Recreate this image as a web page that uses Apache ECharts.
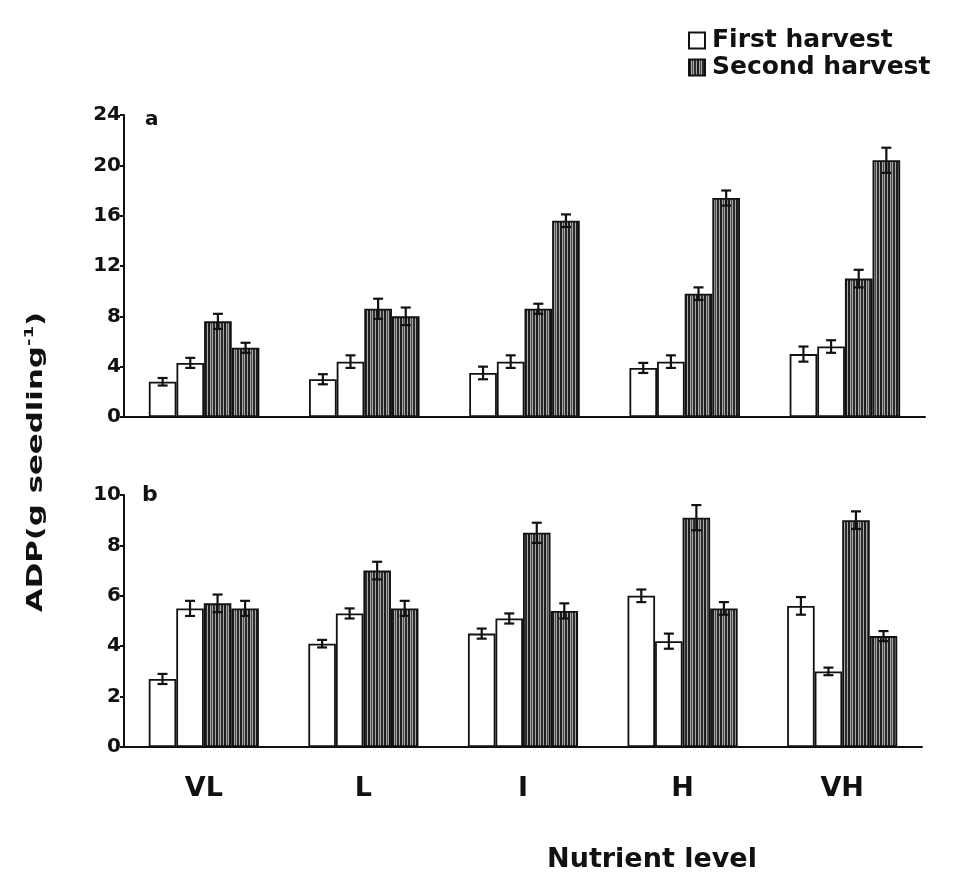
<!DOCTYPE html>
<html>
<head>
<meta charset="utf-8">
<script src="https://cdn.jsdelivr.net/npm/echarts@6/dist/echarts.min.js"></script>
<style>html,body{margin:0;padding:0;background:#fff;}#c{width:959px;height:889px;}</style>
</head>
<body>
<div id="c"></div>
<script>
// ---- data ----
const categories = ['VL', 'L', 'I', 'H', 'VH'];
const yTicksA = [0, 4, 8, 12, 16, 20, 24];
const yTicksB = [0, 2, 4, 6, 8, 10];
// panel a
const aFirst1  = [2.8, 3.0, 3.5, 3.9, 5.0];
const aFirst2  = [4.3, 4.4, 4.4, 4.4, 5.6];
const aSecond1 = [7.6, 8.6, 8.6, 9.8, 11.0];
const aSecond2 = [5.5, 8.0, 15.6, 17.4, 20.4];
const aErrFirst1  = [0.3, 0.4, 0.5, 0.4, 0.6];
const aErrFirst2  = [0.4, 0.5, 0.5, 0.5, 0.5];
const aErrSecond1 = [0.6, 0.8, 0.4, 0.5, 0.7];
const aErrSecond2 = [0.4, 0.7, 0.5, 0.6, 1.0];
// panel b
const bFirst1  = [2.7, 4.1, 4.5, 6.0, 5.6];
const bFirst2  = [5.5, 5.3, 5.1, 4.2, 3.0];
const bSecond1 = [5.7, 7.0, 8.5, 9.1, 9.0];
const bSecond2 = [5.5, 5.5, 5.4, 5.5, 4.4];
const bErrFirst1  = [0.2, 0.15, 0.2, 0.25, 0.35];
const bErrFirst2  = [0.3, 0.2, 0.2, 0.3, 0.15];
const bErrSecond1 = [0.35, 0.35, 0.4, 0.5, 0.35];
const bErrSecond2 = [0.3, 0.3, 0.3, 0.25, 0.2];

// ---- hatch pattern ----
function makeHatch() {
  const cv = document.createElement('canvas');
  cv.width = 8; cv.height = 4;
  const g = cv.getContext('2d');
  g.fillStyle = '#a8a8a8'; g.fillRect(0, 0, 8, 4);
  g.fillStyle = '#1e1e1e'; g.fillRect(0, 0, 2, 4);
  g.fillStyle = '#4a4a4a'; g.fillRect(3, 0, 1, 4);
  g.fillStyle = '#2c2c2c'; g.fillRect(5, 0, 2, 4);
  return cv;
}
const hatch = { image: makeHatch(), repeat: 'repeat' };

const CAT_GAP = 0.31;
const whiteStyle = { color: '#ffffff', borderColor: '#111', borderWidth: 1.8 };
const hatchStyle = { color: hatch, borderColor: '#111', borderWidth: 1.8 };

function barSeries(name, data, style, idx) {
  return {
    type: 'bar', name: name, data: data, xAxisIndex: idx, yAxisIndex: idx,
    barGap: '0%', barCategoryGap: (CAT_GAP * 100) + '%',
    itemStyle: style, emphasis: { disabled: true }, animation: false
  };
}

function errData(valsList, errsList) {
  const out = [];
  valsList.forEach((vals, k) => {
    vals.forEach((v, i) => out.push([i, v, errsList[k][i], k]));
  });
  return out;
}

function errSeries(data, idx) {
  return {
    type: 'custom', xAxisIndex: idx, yAxisIndex: idx, silent: true, animation: false, z: 5,
    data: data,
    renderItem: function (params, api) {
      const ci = api.value(0), v = api.value(1), e = api.value(2), k = api.value(3);
      const band = api.size([1, 0])[0];
      const bw = band * (1 - CAT_GAP) / 4;
      const c = api.coord([ci, v]);
      const x = c[0] + (k - 1.5) * bw;
      const yt = api.coord([ci, v + e])[1];
      const yb = api.coord([ci, v - e])[1];
      const cap = 5;
      const st = { stroke: '#111', lineWidth: 2.2 };
      return {
        type: 'group', children: [
          { type: 'line', shape: { x1: x, y1: yt, x2: x, y2: yb }, style: st },
          { type: 'line', shape: { x1: x - cap, y1: yt, x2: x + cap, y2: yt }, style: st },
          { type: 'line', shape: { x1: x - cap, y1: yb, x2: x + cap, y2: yb }, style: st }
        ]
      };
    }
  };
}

const FONT = 'DejaVu Sans';
const axisLineStyle = { lineStyle: { color: '#111', width: 2 } };

const chart = echarts.init(document.getElementById('c'), null, { renderer: 'canvas' });
chart.setOption({
  backgroundColor: '#ffffff',
  animation: false,
  textStyle: { fontFamily: FONT },
  legend: {
    data: ['First harvest', 'Second harvest'],
    orient: 'vertical', left: 683, top: 23, itemGap: 2,
    icon: 'rect', itemWidth: 16, itemHeight: 16,
    textStyle: { fontFamily: FONT, fontWeight: 'bold', fontSize: 25, color: '#111', padding: [0, 0, 0, 2] },
    selectedMode: false
  },
  grid: [
    { left: 124, top: 115, width: 801, height: 302 },
    { left: 124, top: 495, width: 798, height: 252 }
  ],
  xAxis: [
    { type: 'category', gridIndex: 0, data: categories, axisLine: axisLineStyle,
      axisTick: { show: false }, axisLabel: { show: false } },
    { type: 'category', gridIndex: 1, data: categories, axisLine: axisLineStyle,
      axisTick: { show: false },
      axisLabel: { fontFamily: FONT, fontWeight: 'bold', fontSize: 27, color: '#111', margin: 28 } }
  ],
  yAxis: [
    { type: 'value', gridIndex: 0, min: yTicksA[0], max: yTicksA[yTicksA.length - 1], interval: yTicksA[1] - yTicksA[0],
      splitLine: { show: false }, axisLine: { show: true, lineStyle: { color: '#111', width: 2 } },
      axisTick: { show: true, length: 4, lineStyle: { color: '#111', width: 2 } },
      axisLabel: { fontFamily: FONT, fontWeight: 'bold', fontSize: 20, color: '#111', margin: 3 } },
    { type: 'value', gridIndex: 1, min: yTicksB[0], max: yTicksB[yTicksB.length - 1], interval: yTicksB[1] - yTicksB[0],
      splitLine: { show: false }, axisLine: { show: true, lineStyle: { color: '#111', width: 2 } },
      axisTick: { show: true, length: 4, lineStyle: { color: '#111', width: 2 } },
      axisLabel: { fontFamily: FONT, fontWeight: 'bold', fontSize: 20, color: '#111', margin: 3 } }
  ],
  series: [
    barSeries('First harvest', aFirst1, whiteStyle, 0),
    barSeries('First harvest', aFirst2, whiteStyle, 0),
    barSeries('Second harvest', aSecond1, hatchStyle, 0),
    barSeries('Second harvest', aSecond2, hatchStyle, 0),
    errSeries(errData([aFirst1, aFirst2, aSecond1, aSecond2], [aErrFirst1, aErrFirst2, aErrSecond1, aErrSecond2]), 0),
    barSeries('First harvest', bFirst1, whiteStyle, 1),
    barSeries('First harvest', bFirst2, whiteStyle, 1),
    barSeries('Second harvest', bSecond1, hatchStyle, 1),
    barSeries('Second harvest', bSecond2, hatchStyle, 1),
    errSeries(errData([bFirst1, bFirst2, bSecond1, bSecond2], [bErrFirst1, bErrFirst2, bErrSecond1, bErrSecond2]), 1)
  ],
  graphic: [
    { type: 'text', left: 145, top: 110, style: { text: 'a', font: 'bold 20px "DejaVu Sans"', fill: '#111' } },
    { type: 'text', left: 142, top: 484, style: { text: 'b', font: 'bold 22px "DejaVu Sans"', fill: '#111' } },
    { type: 'text', x: 36, y: 462, rotation: Math.PI / 2, scaleX: 1.4,
      style: { text: 'ADP(g seedling{sup|-1})', fill: '#111', align: 'center', verticalAlign: 'middle',
        font: 'bold 22px "DejaVu Sans"',
        rich: { sup: { fontSize: 13, fontWeight: 'bold', fontFamily: FONT, fill: '#111', padding: [0, 0, 12, 0] } } } },
    { type: 'text', x: 652, y: 860,
      style: { text: 'Nutrient level', fill: '#111', align: 'center', verticalAlign: 'middle',
        font: 'bold 27px "DejaVu Sans"' } }
  ]
});
</script>
</body>
</html>
